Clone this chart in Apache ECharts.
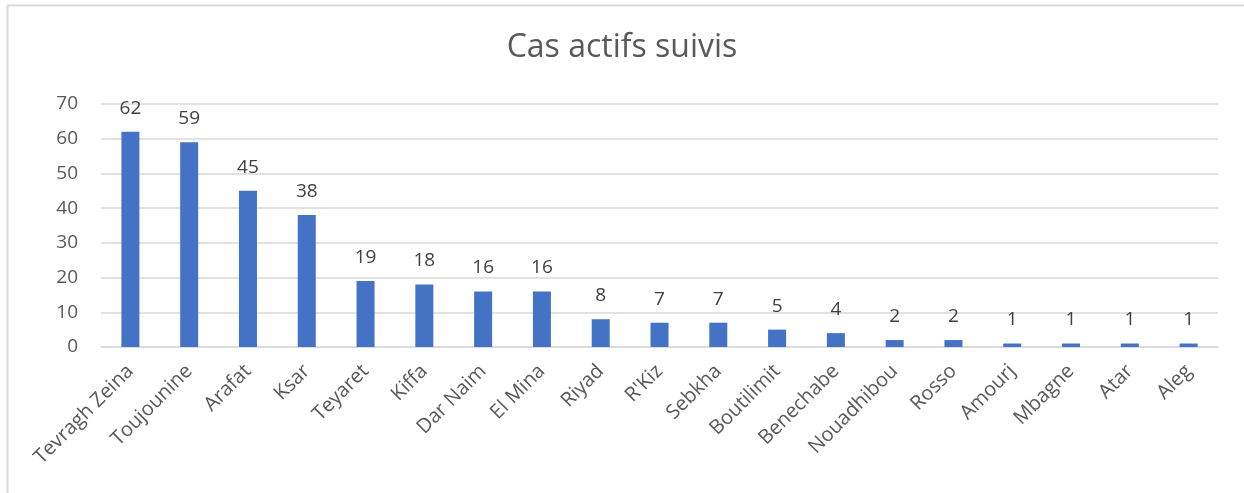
<!DOCTYPE html>
<html>
<head>
<meta charset="utf-8" />
<script src="https://cdn.jsdelivr.net/npm/echarts@6/dist/echarts.min.js"></script>
<title>Cas actifs suivis</title>
<style>
  html, body { margin: 0; padding: 0; background: #fff; }
</style>
</head>
<body>
<div id="main" style="width:1244px;height:493px;"></div>
<script type="text/javascript">
// quartiers / villes
var categories = ['Tevragh Zeina', 'Toujounine', 'Arafat', 'Ksar', 'Teyaret', 'Kiffa', 'Dar Naim', 'El Mina',
  'Riyad', "R'Kiz", 'Sebkha', 'Boutilimit', 'Benechabe', 'Nouadhibou', 'Rosso', 'Amourj', 'Mbagne', 'Atar', 'Aleg'];
// nombre de cas actifs suivis
var casActifs = [62, 59, 45, 38, 19, 18, 16, 16, 8, 7, 7, 5, 4, 2, 2, 1, 1, 1, 1];

var font = 'Open Sans, Noto Sans, sans-serif';
var myChart = echarts.init(document.getElementById('main'));

var option = {
  animation: false,
  backgroundColor: '#fff',
  title: {
    text: 'Cas actifs suivis',
    left: 'center',
    top: 27,
    textStyle: { fontFamily: font, fontSize: 32, fontWeight: 'normal', color: '#595959' }
  },
  graphic: [{
    type: 'rect',
    shape: { x: 7.5, y: 5.5, width: 1300, height: 600 },
    style: { fill: 'none', stroke: '#d9d9d9', lineWidth: 2 },
    silent: true
  }],
  grid: { left: 101, right: 26, top: 104, bottom: 146 },
  xAxis: {
    type: 'category',
    data: categories,
    axisTick: { show: false },
    axisLine: { lineStyle: { color: '#d9d9d9', width: 1.5 } },
    axisLabel: {
      rotate: 45,
      interval: 0,
      margin: 21,
      fontFamily: font,
      fontSize: 20,
      color: '#595959'
    }
  },
  yAxis: {
    type: 'value',
    min: 0,
    max: 70,
    interval: 10,
    axisLine: { show: false },
    axisTick: { show: false },
    splitLine: { lineStyle: { color: '#d9d9d9', width: 1.5 } },
    axisLabel: { margin: 23, fontFamily: font, fontSize: 19, color: '#595959' }
  },
  series: [{
    type: 'bar',
    data: casActifs,
    barWidth: 18,
    itemStyle: { color: '#4472C4' },
    label: {
      show: true,
      position: 'top',
      distance: 14,
      fontFamily: font,
      fontSize: 19,
      color: '#404040'
    }
  }]
};
myChart.setOption(option);
</script>
</body>
</html>
